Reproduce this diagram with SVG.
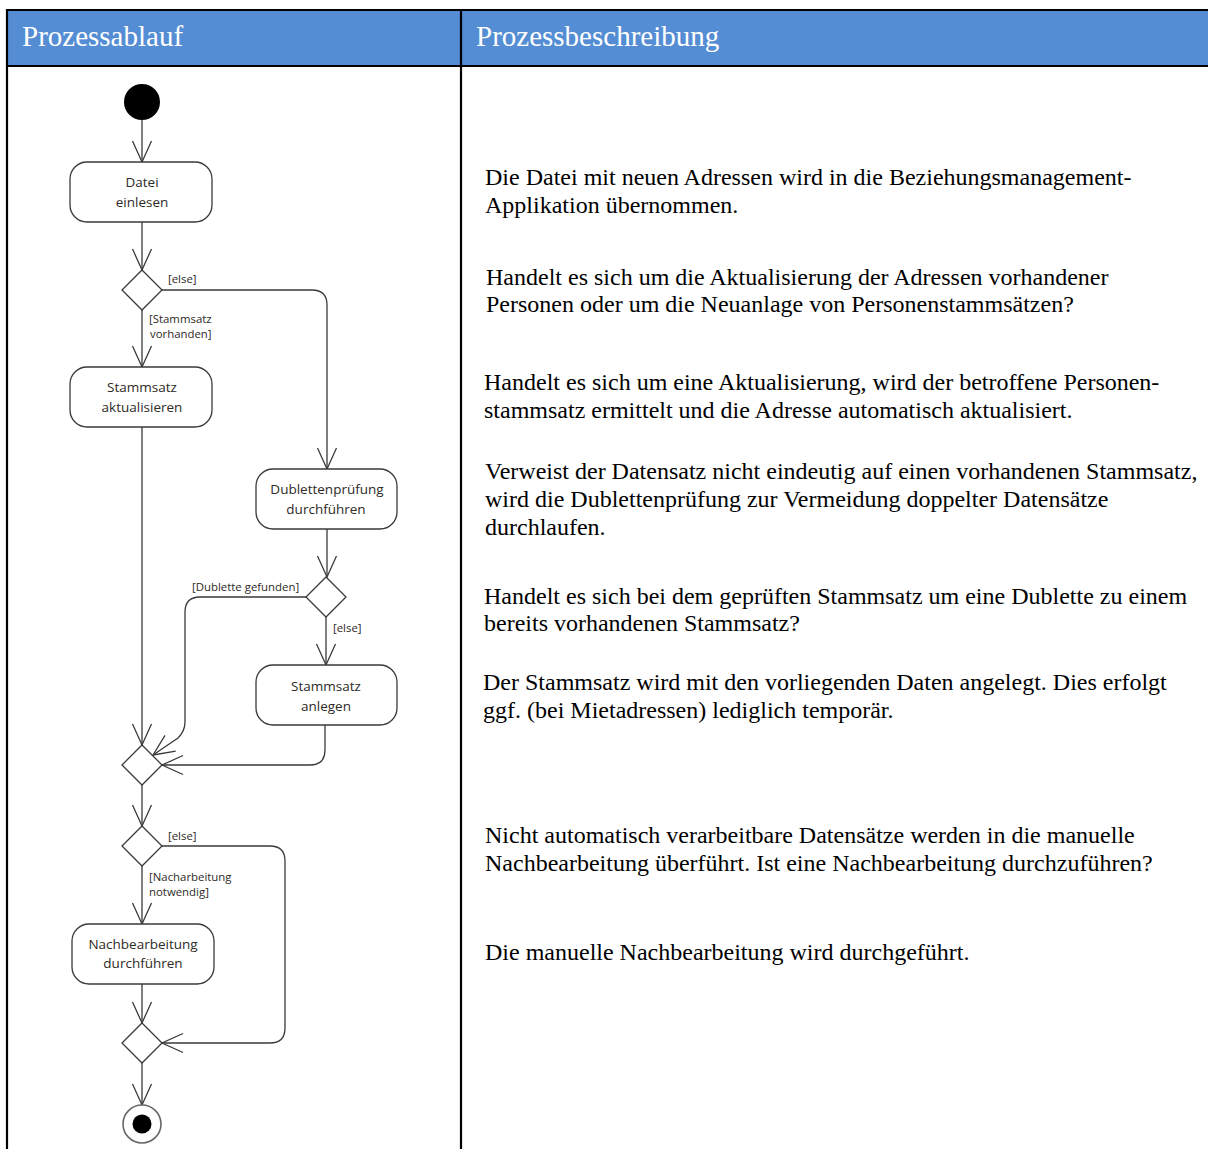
<svg xmlns="http://www.w3.org/2000/svg" width="1208" height="1149" viewBox="0 0 1208 1149">
  <defs>
    <marker id="open" markerUnits="userSpaceOnUse" markerWidth="24" markerHeight="24" viewBox="-22 -12 24 24" refX="0" refY="0" orient="auto">
      <path d="M-21,-9.5 L0,0 L-21,9.5" fill="none" stroke="#3a3a3a" stroke-width="1.3"/>
    </marker>
  </defs>
  <style>
    .hdr { font-family: "Liberation Serif", "Times New Roman", serif; font-size: 29px; fill: #ffffff; }
    .desc { font-family: "Liberation Serif", "Times New Roman", serif; font-size: 24px; fill: #000000; }
    .act rect { fill: #ffffff; stroke: #3a3a3a; stroke-width: 1.3; }
    .act text { font-family: "Open Sans", "Noto Sans", sans-serif; font-size: 13.5px; fill: #2e2a26; text-anchor: middle; }
    .dec polygon { fill: #ffffff; stroke: #3a3a3a; stroke-width: 1.3; }
    .lbl { font-family: "Open Sans", "Noto Sans", sans-serif; font-size: 11.4px; fill: #2e2a26; }
    .flow path { fill: none; stroke: #3a3a3a; stroke-width: 1.3; marker-end: url(#open); }
  </style>

  <rect width="1208" height="1149" fill="#ffffff"/>

  <!-- table frame and header -->
  <g id="table">
    <rect x="7" y="10" width="1201" height="56" fill="#548dd4"/>
    <g stroke="#000000" stroke-width="2.2" fill="none">
      <line x1="6" y1="10" x2="1208" y2="10"/>
      <line x1="6" y1="66" x2="1208" y2="66"/>
      <line x1="7" y1="9" x2="7" y2="1149"/>
      <line x1="461" y1="9" x2="461" y2="1149"/>
    </g>
    <text class="hdr" x="22" y="46">Prozessablauf</text>
    <text class="hdr" x="476" y="46">Prozessbeschreibung</text>
  </g>

  <!-- connectors -->
  <g id="connectors" class="flow">
    <path d="M142,120 L142,162"/>
    <path d="M142,222 L142,270"/>
    <path d="M162,290 L312,290 Q327,290 327,305 L327,469"/>
    <path d="M142,310 L142,367"/>
    <path d="M142,427 L142,745"/>
    <path d="M327,529 L327,577"/>
    <path d="M306,597 L200,597 Q185,597 185,612 L185,722 Q185,731 178,738 L153,755"/>
    <path d="M326,617 L326,665"/>
    <path d="M325,725 L325,750 Q325,765 310,765 L162,765"/>
    <path d="M142,785 L142,826"/>
    <path d="M162,846 L270,846 Q285,846 285,861 L285,1028 Q285,1043 270,1043 L162,1043"/>
    <path d="M142,866 L142,924"/>
    <path d="M142,984 L142,1023"/>
    <path d="M142,1063 L142,1105"/>
  </g>

  <!-- guard labels -->
  <g id="guards">
    <text class="lbl" x="168" y="283">[else]</text>
    <text class="lbl" x="149" y="323">[Stammsatz</text>
    <text class="lbl" x="150" y="338">vorhanden]</text>
    <text class="lbl" x="192" y="591">[Dublette gefunden]</text>
    <text class="lbl" x="333" y="632">[else]</text>
    <text class="lbl" x="168" y="840">[else]</text>
    <text class="lbl" x="149" y="881">[Nacharbeitung</text>
    <text class="lbl" x="149" y="896">notwendig]</text>
  </g>

  <!-- nodes -->
  <g id="start">
    <circle cx="142" cy="102" r="18" fill="#000000"/>
  </g>
  <g id="datei-einlesen" class="act">
    <rect x="70" y="162" width="142" height="60" rx="17"/>
    <text x="142" y="187">Datei</text>
    <text x="142" y="207">einlesen</text>
  </g>
  <g id="decision-stammsatz" class="dec">
    <polygon points="142,270 162,290 142,310 122,290"/>
  </g>
  <g id="stammsatz-aktualisieren" class="act">
    <rect x="70" y="367" width="142" height="60" rx="17"/>
    <text x="142" y="392">Stammsatz</text>
    <text x="142" y="412">aktualisieren</text>
  </g>
  <g id="dublettenpruefung" class="act">
    <rect x="256" y="469" width="141" height="60" rx="17"/>
    <text x="327" y="494">Dublettenprüfung</text>
    <text x="326" y="514">durchführen</text>
  </g>
  <g id="decision-dublette" class="dec">
    <polygon points="326,577 346,597 326,617 306,597"/>
  </g>
  <g id="stammsatz-anlegen" class="act">
    <rect x="256" y="665" width="141" height="60" rx="17"/>
    <text x="326" y="691">Stammsatz</text>
    <text x="326" y="711">anlegen</text>
  </g>
  <g id="merge-1" class="dec">
    <polygon points="142,745 162,765 142,785 122,765"/>
  </g>
  <g id="decision-nacharbeit" class="dec">
    <polygon points="142,826 162,846 142,866 122,846"/>
  </g>
  <g id="nachbearbeitung" class="act">
    <rect x="72" y="924" width="142" height="60" rx="17"/>
    <text x="143" y="949">Nachbearbeitung</text>
    <text x="143" y="968">durchführen</text>
  </g>
  <g id="merge-2" class="dec">
    <polygon points="142,1023 162,1043 142,1063 122,1043"/>
  </g>
  <g id="end">
    <circle cx="142" cy="1124" r="19" fill="#ffffff" stroke="#666666" stroke-width="1.6"/>
    <circle cx="142" cy="1124" r="9.5" fill="#000000"/>
  </g>

  <!-- process description -->
  <g id="descriptions">
    <text class="desc" x="485" y="185">Die Datei mit neuen Adressen wird in die Beziehungsmanagement-</text>
    <text class="desc" x="485" y="213">Applikation übernommen.</text>
    <text class="desc" x="486" y="285">Handelt es sich um die Aktualisierung der Adressen vorhandener</text>
    <text class="desc" x="486" y="312">Personen oder um die Neuanlage von Personenstammsätzen?</text>
    <text class="desc" x="484" y="390">Handelt es sich um eine Aktualisierung, wird der betroffene Personen-</text>
    <text class="desc" x="484" y="418">stammsatz ermittelt und die Adresse automatisch aktualisiert.</text>
    <text class="desc" x="485" y="479">Verweist der Datensatz nicht eindeutig auf einen vorhandenen Stammsatz,</text>
    <text class="desc" x="485" y="507">wird die Dublettenprüfung zur Vermeidung doppelter Datensätze</text>
    <text class="desc" x="485" y="535">durchlaufen.</text>
    <text class="desc" x="484" y="604">Handelt es sich bei dem geprüften Stammsatz um eine Dublette zu einem</text>
    <text class="desc" x="484" y="631">bereits vorhandenen Stammsatz?</text>
    <text class="desc" x="483" y="690">Der Stammsatz wird mit den vorliegenden Daten angelegt. Dies erfolgt</text>
    <text class="desc" x="483" y="718">ggf. (bei Mietadressen) lediglich temporär.</text>
    <text class="desc" x="485" y="843">Nicht automatisch verarbeitbare Datensätze werden in die manuelle</text>
    <text class="desc" x="485" y="871">Nachbearbeitung überführt. Ist eine Nachbearbeitung durchzuführen?</text>
    <text class="desc" x="485" y="960">Die manuelle Nachbearbeitung wird durchgeführt.</text>
  </g>
</svg>
